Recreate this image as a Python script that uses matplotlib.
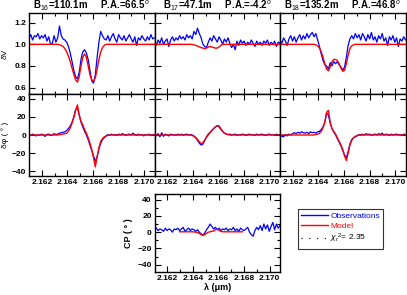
import numpy as np
import matplotlib.pyplot as plt
from matplotlib.lines import Line2D
from matplotlib.ticker import MultipleLocator

plt.rcParams['font.family'] = ['Liberation Sans', 'DejaVu Sans']
plt.rcParams['mathtext.fontset'] = 'custom'
plt.rcParams['mathtext.rm'] = 'Liberation Sans'
plt.rcParams['mathtext.it'] = 'Liberation Sans:italic'
plt.rcParams['mathtext.bf'] = 'Liberation Sans:bold'

# wavelength grid (micron), 71 spectral channels
lam = np.linspace(2.1610, 2.1708, 71)

titles = ['B$_{16}$=110.1m     P.A.=66.5$^o$',
          'B$_{17}$=47.1m     P.A.=-4.2$^o$',
          'B$_{18}$=135.2m     P.A.=46.8$^o$']

# differential visibility, observations
obs_dv1 = [1.06, 1.09, 1.04, 1.08, 1.07, 1.10, 1.05, 1.08, 1.06, 1.09,
           1.03, 1.07, 1.00, 1.01, 1.08, 1.02, 1.06, 1.17, 1.08, 1.05,
           1.04, 1.02, 0.98, 0.92, 0.84, 0.76, 0.70, 0.68, 0.74, 0.86,
           0.93, 0.95, 0.92, 0.86, 0.76, 0.66, 0.64, 0.72, 0.88, 1.02,
           1.12, 1.08, 1.05, 1.04, 1.08, 1.03, 1.07, 1.10, 1.05, 1.02,
           1.09, 1.06, 1.04, 1.08, 1.03, 1.06, 1.09, 1.05, 1.02, 1.07,
           0.99, 1.06, 1.04, 1.08, 1.05, 1.03, 1.07, 1.04, 1.09, 1.05, 1.06]
obs_dv2 = [1.02, 0.99, 1.04, 1.01, 1.06, 1.00, 1.03, 1.05, 0.98, 1.04,
           1.07, 1.03, 1.06, 1.04, 1.08, 1.05, 1.07, 1.04, 1.09, 1.06,
           1.08, 1.05, 1.12, 1.09, 1.15, 1.10, 1.06, 1.00, 0.98, 0.97,
           1.02, 1.06, 1.03, 1.08, 1.05, 1.02, 1.07, 1.04, 1.00, 1.05,
           1.02, 1.06, 1.01, 0.97, 1.00, 0.95, 1.03, 0.99, 1.04, 1.01,
           1.03, 0.99, 1.02, 1.00, 1.04, 1.01, 0.98, 1.03, 1.00, 1.02,
           0.99, 1.03, 1.01, 1.04, 0.99, 1.02, 1.00, 1.03, 0.98, 1.02, 1.01]
obs_dv3 = [1.04, 1.01, 1.06, 1.03, 0.99, 1.05, 1.08, 1.03, 1.07, 1.02,
           1.06, 1.09, 1.04, 1.08, 1.05, 1.10, 1.06, 1.09, 1.11, 1.07,
           1.10, 1.04, 0.98, 0.91, 0.85, 0.81, 0.80, 0.77, 0.83, 0.80,
           0.84, 0.82, 0.84, 0.81, 0.79, 0.76, 0.79, 0.88, 0.99, 1.05,
           1.08, 1.05, 1.10, 1.06, 1.09, 1.04, 1.10, 1.07, 1.03, 1.09,
           1.05, 1.11, 1.04, 1.07, 1.02, 1.08, 1.05, 1.10, 1.03, 1.06,
           0.99, 1.07, 1.04, 1.08, 1.02, 1.06, 0.98, 1.05, 1.03, 1.07, 1.04]

# differential visibility, model
mod_dv1 = [1.00, 1.00, 1.00, 1.00, 1.00, 1.00, 1.00, 1.00, 1.00, 1.00,
           1.00, 1.00, 1.00, 1.00, 1.00, 1.00, 1.00, 0.995, 0.99, 0.98,
           0.96, 0.93, 0.89, 0.84, 0.78, 0.72, 0.67, 0.65, 0.70, 0.80,
           0.88, 0.91, 0.88, 0.80, 0.72, 0.67, 0.66, 0.69, 0.77, 0.86,
           0.93, 0.97, 0.99, 1.00, 1.00, 1.00, 1.00, 1.00, 1.00, 1.00,
           1.00, 1.00, 1.00, 1.00, 1.00, 1.00, 1.00, 1.00, 1.00, 1.00,
           1.00, 1.00, 1.00, 1.00, 1.00, 1.00, 1.00, 1.00, 1.00, 1.00, 1.00]
mod_dv2 = [1.00, 1.00, 1.00, 1.00, 1.00, 1.00, 1.00, 1.00, 1.00, 1.00,
           1.00, 1.00, 1.00, 1.00, 1.00, 1.00, 1.00, 1.00, 1.00, 1.00,
           1.00, 1.00, 0.995, 0.99, 0.985, 0.975, 0.97, 0.965, 0.96, 0.965,
           0.975, 0.98, 0.975, 0.97, 0.965, 0.965, 0.975, 0.99, 1.00, 1.00,
           1.00, 1.00, 1.00, 1.00, 1.00, 1.00, 1.00, 1.00, 1.00, 1.00,
           1.00, 1.00, 1.00, 1.00, 1.00, 1.00, 1.00, 1.00, 1.00, 1.00,
           1.00, 1.00, 1.00, 1.00, 1.00, 1.00, 1.00, 1.00, 1.00, 1.00, 1.00]
mod_dv3 = [1.00, 1.00, 1.00, 1.00, 1.00, 1.00, 1.00, 1.00, 1.00, 1.00,
           1.00, 1.00, 1.00, 1.00, 1.00, 1.00, 1.00, 1.00, 1.00, 1.00,
           0.995, 0.985, 0.965, 0.93, 0.88, 0.82, 0.77, 0.755, 0.79, 0.84,
           0.86, 0.86, 0.85, 0.82, 0.78, 0.75, 0.76, 0.82, 0.90, 0.96,
           0.985, 0.995, 1.00, 1.00, 1.00, 1.00, 1.00, 1.00, 1.00, 1.00,
           1.00, 1.00, 1.00, 1.00, 1.00, 1.00, 1.00, 1.00, 1.00, 1.00,
           1.00, 1.00, 1.00, 1.00, 1.00, 1.00, 1.00, 1.00, 1.00, 1.00, 1.00]

# differential phase (deg), observations
obs_dp1 = [1.5, -0.5, 1.0, 0.0, -1.0, 0.5, -0.5, 1.0, 0.0, -1.5,
           0.5, 1.0, -0.5, 0.0, 1.5, 0.5, 1.0, 2.0, 2.5, 3.0,
           3.5, 5.0, 7.0, 10.0, 14.0, 20.0, 28.0, 30.0, 22.0, 14.0,
           9.0, 4.0, 0.0, -5.0, -11.0, -17.0, -23.0, -29.0, -24.0, -15.0,
           -9.0, -5.0, -3.0, -1.0, 0.5, -0.5, 1.0, 0.0, 0.5, -0.5,
           1.0, 0.0, 1.5, 0.5, -0.5, 0.5, 1.0, 0.0, 2.0, 0.5,
           -0.5, 1.0, 0.0, 0.5, -1.0, 0.5, 0.0, 1.0, -0.5, 0.5, 0.0]
obs_dp2 = [0.5, -1.0, 1.5, -2.0, 2.5, -1.5, 1.0, 0.0, -1.0, 1.0,
           0.0, 0.5, -0.5, 1.0, 0.0, 1.0, -0.5, 0.5, 1.0, 0.0,
           0.5, 0.0, -1.0, -3.0, -6.0, -9.0, -11.0, -10.0, -6.0, -2.0,
           1.0, 3.0, 5.0, 7.0, 9.0, 10.0, 9.0, 6.0, 4.0, 2.0,
           1.0, 0.5, 1.0, 0.0, 0.5, 1.0, -0.5, 0.5, 0.0, 1.0,
           0.5, -0.5, 0.5, 1.0, 0.0, 0.5, -0.5, 1.0, 0.0, 0.5,
           1.0, 0.0, -0.5, 0.5, 1.0, 0.0, 0.5, -0.5, 1.0, 0.0, 0.5]
obs_dp3 = [0.0, -1.5, -2.0, 0.5, -1.0, 1.0, 0.0, 1.5, 2.5, 1.5,
           3.0, 2.0, 3.5, 2.5, 2.0, 3.0, 1.5, 3.5, 2.5, 3.0,
           2.0, 3.5, 4.0, 6.0, 9.0, 14.0, 24.0, 22.0, 13.0, 7.0,
           3.0, 0.0, -4.0, -8.0, -12.0, -17.0, -22.0, -25.0, -18.0, -10.0,
           -5.0, -3.0, -2.0, -1.0, 0.5, -0.5, 1.0, 0.0, 1.5, 0.5,
           1.0, -0.5, 0.5, 1.0, 0.0, 1.5, 0.5, 2.0, 0.0, 1.0,
           0.5, -0.5, 1.0, 0.0, 0.5, 1.0, 0.0, 0.5, -0.5, 1.0, 0.5]

# differential phase (deg), model
mod_dp1 = [0.0, 0.0, 0.0, 0.0, 0.0, 0.0, 0.0, 0.0, 0.0, 0.0,
           0.0, 0.0, 0.0, 0.0, 0.0, 0.0, 0.0, 0.3, 0.6, 1.0,
           1.5, 2.0, 4.0, 8.0, 13.0, 19.0, 27.0, 33.0, 22.0, 15.0,
           11.0, 6.0, 2.0, -3.0, -9.0, -16.0, -25.0, -35.0, -24.0, -14.0,
           -7.0, -4.0, -2.0, -1.0, -0.5, 0.0, 0.0, 0.0, 0.0, 0.0,
           0.0, 0.0, 0.0, 0.0, 0.0, 0.0, 0.0, 0.0, 0.0, 0.0,
           0.0, 0.0, 0.0, 0.0, 0.0, 0.0, 0.0, 0.0, 0.0, 0.0, 0.0]
mod_dp2 = [0.0, 0.0, 0.0, 0.0, 0.0, 0.0, 0.0, 0.0, 0.0, 0.0,
           0.0, 0.0, 0.0, 0.0, 0.0, 0.0, 0.0, 0.0, 0.0, 0.0,
           0.0, -0.5, -1.5, -3.0, -5.0, -7.5, -9.5, -8.5, -5.5, -2.5,
           0.0, 2.5, 5.0, 7.0, 9.0, 10.5, 10.0, 7.0, 4.0, 2.0,
           1.0, 0.5, 0.0, 0.0, 0.0, 0.0, 0.0, 0.0, 0.0, 0.0,
           0.0, 0.0, 0.0, 0.0, 0.0, 0.0, 0.0, 0.0, 0.0, 0.0,
           0.0, 0.0, 0.0, 0.0, 0.0, 0.0, 0.0, 0.0, 0.0, 0.0, 0.0]
mod_dp3 = [0.0, 0.0, 0.0, 0.0, 0.0, 0.0, 0.0, 0.0, 0.0, 0.0,
           0.0, 0.0, 0.0, 0.0, 0.0, 0.0, 0.0, 0.0, 0.0, 0.0,
           0.5, 1.0, 2.0, 4.0, 8.0, 14.0, 25.0, 27.0, 14.0, 7.0,
           4.0, 1.0, -3.0, -7.0, -11.0, -16.0, -23.0, -28.0, -20.0, -11.0,
           -6.0, -3.0, -1.5, -0.5, 0.0, 0.0, 0.0, 0.0, 0.0, 0.0,
           0.0, 0.0, 0.0, 0.0, 0.0, 0.0, 0.0, 0.0, 0.0, 0.0,
           0.0, 0.0, 0.0, 0.0, 0.0, 0.0, 0.0, 0.0, 0.0, 0.0, 0.0]

# closure phase (deg)
obs_cp = [8, 5, 2, 4, 3, 1, 5, 2, 4, 3,
          0, 4, 3, 5, 2, 4, 6, 1, 3, 5,
          2, 4, 3, 1, 3, 0, -2, -4, -1, 3,
          6, 10, 7, 4, 6, 3, 5, 2, 4, 3,
          5, 2, 4, 3, 6, 2, 4, 1, 5, 3,
          2, 4, 6, 0, -3, -5, 2, 6, 3, 8,
          2, 10, 4, 9, 1, 7, 12, 3, 10, 5, 8]
# model closure phase only covers channels 14..49
mod_cp = [0.5, 0.5, 0.5, 0.5, 0.5, 0.5, 0.5, 0.5, 0.3, 0.0,
          -0.5, -1.5, -3.0, -4.0, -3.0, -1.5, 0.0, 0.5, 1.0, 1.5,
          3.0, 3.5, 2.5, 1.0, 0.5, 0.5, 0.5, 0.5, 0.5, 0.5,
          0.5, 0.5, 0.5, 0.5, 0.5, 0.5]
cp_start = 14

chi2_label = '$\\chi_r$$^2$= 2.35'

obs_dv = [obs_dv1, obs_dv2, obs_dv3]
mod_dv = [mod_dv1, mod_dv2, mod_dv3]
obs_dp = [obs_dp1, obs_dp2, obs_dp3]
mod_dp = [mod_dp1, mod_dp2, mod_dp3]

W, H = 407, 295
fig = plt.figure(figsize=(W / 100, H / 100), dpi=100)

lefts = [29, 154.5, 280]
width = 125.5
tick_fs = 6


def style(ax, xlab=True, ylab=True):
    ax.set_xlim(2.1610, 2.1708)
    ax.xaxis.set_major_locator(MultipleLocator(0.002))
    ax.xaxis.set_minor_locator(MultipleLocator(0.001))
    ax.tick_params(which='both', direction='in', top=True, right=True,
                   labelsize=tick_fs, width=0.8, pad=2)
    ax.tick_params(which='major', length=4)
    ax.tick_params(which='minor', length=2)
    if not xlab:
        ax.tick_params(labelbottom=False)
    if not ylab:
        ax.tick_params(labelleft=False)
    for lbl in ax.get_xticklabels() + ax.get_yticklabels():
        lbl.set_fontweight('bold')
    for sp in ax.spines.values():
        sp.set_linewidth(1.0)


def rect(left, top, w, h):
    return [left / W, 1 - (top + h) / H, w / W, h / H]


for k in range(3):
    # top row: differential visibility
    ax = fig.add_axes(rect(lefts[k], 13, width, 81))
    ax.plot(lam, obs_dv[k], color='blue', lw=0.9)
    ax.plot(lam, mod_dv[k], color='red', lw=1.0)
    ax.set_ylim(0.54, 1.29)
    ax.yaxis.set_major_locator(MultipleLocator(0.2))
    ax.yaxis.set_major_formatter(plt.FormatStrFormatter('%.1f'))
    style(ax, xlab=False, ylab=(k == 0))
    ax.set_title(titles[k], fontsize=7, fontweight='bold', pad=2)
    if k == 0:
        ax.set_ylabel('δV', fontsize=6, labelpad=4)

    # middle row: differential phase
    ax = fig.add_axes(rect(lefts[k], 94, width, 82))
    ax.plot(lam, obs_dp[k], color='blue', lw=0.9)
    ax.plot(lam, mod_dp[k], color='red', lw=1.0)
    ax.set_ylim(-45, 45)
    ax.yaxis.set_major_locator(MultipleLocator(20))
    style(ax, xlab=True, ylab=(k == 0))
    if k == 0:
        ax.set_ylabel('δφ ( ° )', fontsize=6, labelpad=2)

# closure phase panel
ax = fig.add_axes(rect(lefts[1], 194, width, 78))
ax.plot(lam, obs_cp, color='blue', lw=0.9)
ax.plot(lam[cp_start:cp_start + len(mod_cp)], mod_cp, color='red', lw=1.0)
ax.set_ylim(-49, 47)
ax.yaxis.set_major_locator(MultipleLocator(20))
ax.yaxis.set_minor_locator(MultipleLocator(10))
style(ax)
ax.set_ylabel('CP ( ° )', fontsize=6.5, fontweight='bold', labelpad=3)
ax.set_xlabel('λ (μm)', fontsize=6.5, fontweight='bold', labelpad=1)

handles = [Line2D([], [], color='blue', lw=1.0),
           Line2D([], [], color='red', lw=1.0),
           Line2D([], [], color='black', lw=0.8, linestyle=(0, (1, 6)))]
labels = ['Observations', 'Model', chi2_label]
leg = fig.legend(handles, labels, loc='upper left',
                 bbox_to_anchor=(298 / W, 1 - 209 / H),
                 borderaxespad=0, fontsize=6, frameon=True, fancybox=False,
                 edgecolor='black', borderpad=0.4, labelspacing=0.25,
                 handlelength=3.2, handletextpad=0.3,
                 labelcolor=['blue', 'red', 'black'])
leg.get_frame().set_linewidth(0.8)

fig.savefig('out.png', dpi=100)
